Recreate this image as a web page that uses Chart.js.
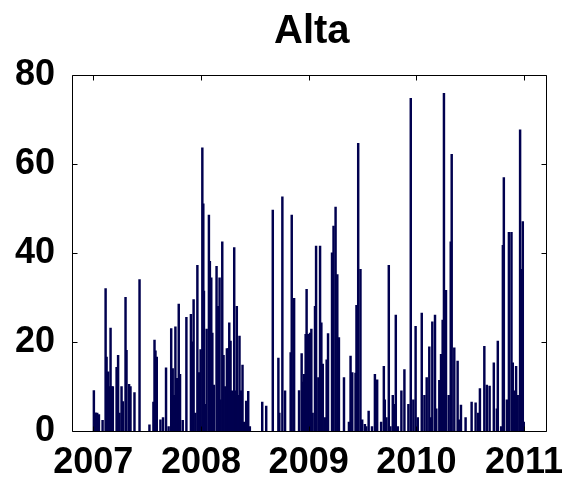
<!DOCTYPE html>
<html lang="en">
<head>
<meta charset="UTF-8">
<title>Alta</title>
<script src="https://cdn.jsdelivr.net/npm/chart.js"></script>
<style>
  * { margin: 0; padding: 0; }
  body { background: white; }
</style>
</head>
<body>
<canvas id="myChart" width="566" height="478"></canvas>
<script>
// daily precipitation at Alta, nonzero days only (decimal year, amount)
const spikeYears = [
  2007.006, 2007.020, 2007.037, 2007.053, 2007.087, 2007.115, 2007.124, 2007.139, 2007.152, 2007.161,
  2007.170, 2007.182, 2007.217, 2007.231, 2007.244, 2007.263, 2007.275, 2007.300, 2007.309, 2007.333,
  2007.346, 2007.383, 2007.430, 2007.522, 2007.559, 2007.569, 2007.578, 2007.590, 2007.624, 2007.648,
  2007.676, 2007.700, 2007.724, 2007.738, 2007.750, 2007.763, 2007.778, 2007.794, 2007.806, 2007.831,
  2007.865, 2007.907, 2007.917, 2007.932, 2007.948, 2007.967, 2007.981, 2007.997,
  2008.013, 2008.022, 2008.028, 2008.041, 2008.053, 2008.074, 2008.083, 2008.096, 2008.106, 2008.120,
  2008.145, 2008.161, 2008.173, 2008.182, 2008.198, 2008.210, 2008.226, 2008.241, 2008.254, 2008.263,
  2008.275, 2008.287, 2008.309, 2008.321, 2008.333, 2008.346, 2008.358, 2008.374, 2008.386, 2008.402,
  2008.420, 2008.439, 2008.454, 2008.569, 2008.606, 2008.667, 2008.719, 2008.728, 2008.756, 2008.781,
  2008.833, 2008.843, 2008.865, 2008.911, 2008.935, 2008.944, 2008.957, 2008.972, 2008.981, 2008.994,
  2009.013, 2009.025, 2009.037, 2009.059, 2009.069, 2009.090, 2009.106, 2009.118, 2009.131, 2009.152,
  2009.167, 2009.180, 2009.217, 2009.231, 2009.250, 2009.266, 2009.281, 2009.328, 2009.374, 2009.389,
  2009.405, 2009.435, 2009.444, 2009.460, 2009.481, 2009.497, 2009.522, 2009.535, 2009.557, 2009.588,
  2009.615, 2009.636, 2009.673, 2009.698, 2009.707, 2009.722, 2009.744, 2009.759, 2009.781, 2009.794,
  2009.809, 2009.828, 2009.861, 2009.889, 2009.926, 2009.948, 2009.972, 2009.993,
  2010.013, 2010.050, 2010.075, 2010.096, 2010.120, 2010.136, 2010.148, 2010.173, 2010.185, 2010.213,
  2010.229, 2010.244, 2010.256, 2010.275, 2010.300, 2010.319, 2010.328, 2010.352, 2010.383, 2010.398,
  2010.414, 2010.457, 2010.513, 2010.550, 2010.574, 2010.590, 2010.631, 2010.654, 2010.680, 2010.719,
  2010.747, 2010.756, 2010.787, 2010.803, 2010.812, 2010.840, 2010.859, 2010.883, 2010.895, 2010.911,
  2010.926, 2010.941, 2010.963, 2010.972, 2010.988, 2010.997
];
const spikeValues = [
  9.1, 4.1, 4.0, 3.7, 2.4, 32.0, 16.6, 13.3, 10.0, 23.1,
  10.0, 10.0, 14.3, 17.0, 4.0, 10.0, 6.6, 30.0, 18.1, 10.5,
  10.0, 8.6, 34.0, 1.4, 6.5, 20.4, 18.0, 16.6, 2.5, 3.0,
  14.2, 1.0, 23.0, 14.0, 8.0, 23.4, 11.8, 28.5, 12.7, 2.4,
  25.5, 26.2, 20.0, 29.5, 4.0, 37.2, 13.1, 18.3,
  63.6, 51.0, 31.4, 6.0, 22.9, 48.5, 38.1, 34.4, 22.0, 10.3,
  37.0, 28.0, 34.4, 7.0, 42.5, 17.0, 10.0, 18.5, 18.5, 24.3,
  20.2, 9.0, 41.2, 9.0, 28.0, 8.0, 21.3, 9.0, 14.8, 2.0,
  6.7, 8.9, 1.0, 6.5, 5.6, 49.6, 16.4, 4.0, 52.6, 9.0,
  17.6, 48.5, 29.8, 9.1, 17.4, 11.0, 12.7, 21.7, 31.8, 21.7,
  22.0, 22.9, 4.0, 28.0, 41.5, 12.0, 41.5, 24.3, 15.0, 3.0,
  16.0, 21.9, 40.0, 46.0, 50.3, 35.1, 21.0, 12.0, 2.0, 16.8,
  13.1, 13.0, 28.2, 64.6, 36.3, 2.5, 1.5, 1.0, 4.5, 1.0,
  12.7, 11.5, 2.0, 14.5, 7.0, 3.0, 37.2, 1.0, 8.0, 6.0,
  26.0, 1.0, 9.0, 13.8, 6.0, 74.7, 7.0, 23.5,
  3.0, 26.5, 8.0, 12.0, 18.9, 3.0, 24.5, 26.0, 5.0, 11.4,
  17.2, 24.9, 75.8, 31.6, 8.0, 42.5, 62.1, 18.7, 15.7, 2.5,
  5.8, 3.0, 6.5, 6.3, 4.0, 9.5, 19.0, 10.3, 10.1, 15.3,
  5.0, 20.2, 1.0, 41.7, 56.9, 7.0, 44.6, 44.6, 15.3, 9.0,
  14.5, 8.0, 67.6, 36.3, 47.0, 2.0
];
const yearTicks = [2007, 2008, 2009, 2010, 2011];
const valueTicks = [0, 20, 40, 60, 80];
const chartTitle = 'Alta';

const labelFont = { family: 'Liberation Sans', size: 36, weight: 'bold' };

// matlab style box with inward ticks, title centred over the axes
const boxPlugin = {
  id: 'box',
  afterDatasetsDraw(chart) {
    const { ctx, chartArea: a, scales: { x, y } } = chart;
    const l = Math.round(a.left) + 0.5, r = Math.round(a.right) + 0.5;
    const t = Math.round(a.top) + 0.5, b = Math.round(a.bottom) + 0.5;
    ctx.save();
    ctx.strokeStyle = '#000';
    ctx.lineWidth = 1;
    ctx.beginPath();
    ctx.rect(l, t, r - l, b - t);
    yearTicks.forEach(v => {
      const px = Math.round(x.getPixelForValue(v)) + 0.5;
      ctx.moveTo(px, b); ctx.lineTo(px, b - 5);
      ctx.moveTo(px, t); ctx.lineTo(px, t + 5);
    });
    valueTicks.forEach(v => {
      const py = Math.round(y.getPixelForValue(v)) + 0.5;
      ctx.moveTo(l, py); ctx.lineTo(l + 5, py);
      ctx.moveTo(r, py); ctx.lineTo(r - 5, py);
    });
    ctx.stroke();

    ctx.fillStyle = '#000';
    ctx.font = 'bold 40px "Liberation Sans"';
    ctx.textAlign = 'center';
    ctx.textBaseline = 'alphabetic';
    ctx.fillText(chartTitle, (a.left + a.right) / 2 + 3, 43);
    ctx.restore();
  }
};

const data = {
  datasets: [{
    data: spikeYears.map((yr, i) => ({ x: yr, y: spikeValues[i] })),
    backgroundColor: '#00004f',
    borderWidth: 0,
    barThickness: 1.8
  }]
};

const config = {
  type: 'bar',
  data,
  options: {
    responsive: false,
    animation: false,
    layout: { padding: { left: 0, right: 19, top: 74.7, bottom: 0 } },
    plugins: {
      legend: { display: false },
      tooltip: { enabled: false },
      title: { display: false }
    },
    scales: {
      x: {
        type: 'linear',
        offset: false,
        min: 2006.803,
        max: 2011.2,
        grid: { display: false, offset: false },
        border: { display: false },
        afterBuildTicks(scale) { scale.ticks = yearTicks.map(v => ({ value: v })); },
        afterFit(scale) { scale.height = 47; },
        ticks: {
          color: '#000',
          font: labelFont,
          padding: 2,
          maxRotation: 0,
          autoSkip: false,
          callback: v => String(v)
        }
      },
      y: {
        min: 0,
        max: 80,
        grid: { display: false },
        border: { display: false },
        afterBuildTicks(scale) { scale.ticks = valueTicks.map(v => ({ value: v })); },
        afterFit(scale) { scale.width = 72; },
        ticks: {
          color: '#000',
          font: labelFont,
          padding: 9
        }
      }
    }
  },
  plugins: [boxPlugin]
};

const myChart = new Chart(document.getElementById('myChart'), config);
</script>
</body>
</html>
